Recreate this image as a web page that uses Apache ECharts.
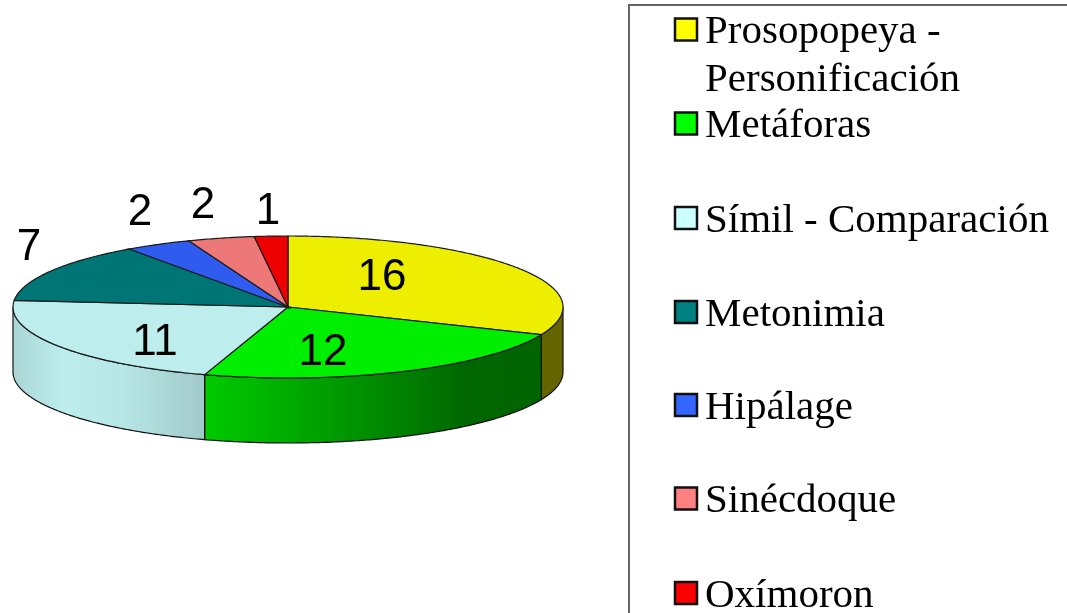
<!DOCTYPE html>
<html>
<head>
<meta charset="utf-8">
<style>html,body{margin:0;padding:0;background:#fff;overflow:hidden}#c{width:1067px;height:613px}</style>
<script src="https://cdn.jsdelivr.net/npm/echarts@6/dist/echarts.min.js"></script>
</head>
<body>
<div id="c"></div>
<script>
const categories = ['Prosopopeya -\nPersonificación', 'Metáforas', 'Símil - Comparación', 'Metonimia', 'Hipálage', 'Sinécdoque', 'Oxímoron'];
const values = [16, 12, 11, 7, 2, 2, 1];

const topColors = ['#EEEE00', '#00EE00', '#BDEDED', '#007575', '#2F5CEE', '#EE7777', '#EE0000'];
const swatchColors = ['#FFFF00', '#00FF00', '#CCFFFF', '#008080', '#3366FF', '#FF8080', '#FF0000'];
const baseRgb = [[238,238,0],[0,238,0],[189,237,237],[0,117,117],[47,92,238],[238,119,119],[238,0,0]];
const shadeStops = [[0,.90],[.09,1],[.2,.97],[.35,.85],[.55,.68],[.83,.43],[1,.42]];

const CX = 288, CY = 307, RX = 275, RY = 71, DEPTH = 65;
const labelOffsets = [[94,-29],[35,46],[-133,36],[-259,-59],[-148,-94],[-85,-101],[-20,-95]];
const legendRowY = [29.5, 123.5, 218, 312, 405, 498.5, 593];

const total = values.reduce((a,b)=>a+b,0);
const startAngles = [];
values.reduce((acc,v,i)=>{ startAngles[i]=acc; return acc+v; },0);
const ang = i => [startAngles[i]/total*2*Math.PI, (startAngles[i]+values[i])/total*2*Math.PI];
const pt = (t,dy) => [CX+RX*Math.sin(t), CY-RY*Math.cos(t)+(dy||0)];
function arc(a,b,dy){
  const n = Math.max(2,Math.ceil((b-a)/0.01)), out=[];
  for(let k=0;k<=n;k++) out.push(pt(a+(b-a)*k/n,dy));
  return out;
}

function renderSide(params, api){
  const i = params.dataIndex;
  let [a,b] = ang(i);
  a = Math.max(a, Math.PI/2); b = Math.min(b, 3*Math.PI/2);
  if(b <= a) return {type:'group',children:[]};
  const pts = arc(a,b,0).concat(arc(a,b,DEPTH).reverse());
  const c = baseRgb[i];
  return {type:'polygon', shape:{points:pts}, style:{
    fill:{type:'linear',global:true,x:CX-RX,y:0,x2:CX+RX,y2:0,
      colorStops:shadeStops.map(([o,s])=>({offset:o,color:`rgb(${c.map(v=>Math.round(v*s)).join(',')})`}))},
    stroke:'#111',lineWidth:1.2}};
}
function renderTop(params, api){
  const i = params.dataIndex;
  const [a,b] = ang(i);
  const pts = [[CX,CY]].concat(arc(a,b,0));
  return {type:'polygon', shape:{points:pts}, style:{fill:topColors[i],stroke:'#1a1a1a',lineWidth:1.2}};
}
function renderLabel(params, api){
  const i = params.dataIndex;
  return {type:'text', style:{text:String(api.value(0)),x:CX+labelOffsets[i][0],y:CY+labelOffsets[i][1],
    fill:'#000',font:'44px "Liberation Sans"',align:'center',verticalAlign:'middle'}};
}

const legendGraphics = [{type:'rect',shape:{x:629,y:5,width:600,height:800},style:{fill:'none',stroke:'#666',lineWidth:2},silent:true}];
categories.forEach((name,i)=>{
  const y = legendRowY[i];
  legendGraphics.push({type:'rect',shape:{x:675,y:y-11,width:22,height:22},style:{fill:swatchColors[i],stroke:'#111',lineWidth:2.5}});
  legendGraphics.push({type:'text',x:705,y:y-21,style:{text:name,fill:'#000',font:'41px "Liberation Serif"',lineHeight:47.5,align:'left',verticalAlign:'top'}});
});

const chart = echarts.init(document.getElementById('c'),null,{renderer:'canvas'});
chart.setOption({
  animation:false,
  backgroundColor:'#fff',
  graphic:{elements:legendGraphics},
  series:[
    {type:'custom',coordinateSystem:'none',renderItem:renderSide,data:values,silent:true,z:1},
    {type:'custom',coordinateSystem:'none',renderItem:renderTop,data:values,silent:true,z:2},
    {type:'custom',coordinateSystem:'none',renderItem:renderLabel,data:values,silent:true,z:3}
  ]
});
</script>
</body>
</html>
